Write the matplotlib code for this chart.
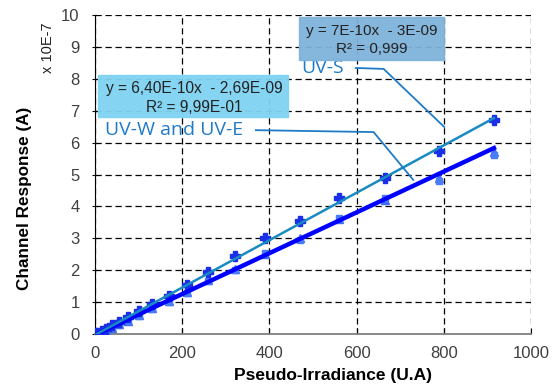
import numpy as np
import matplotlib
matplotlib.use("Agg")
import matplotlib.pyplot as plt

plt.rcParams['font.family'] = ['Liberation Sans', 'DejaVu Sans']

# pseudo-irradiance steps
irr = [0, 5, 15, 25, 40, 55, 75, 100, 130, 170, 210, 260, 320, 390, 470, 560, 665, 790, 915]

# channel responses, x 10E-7 A
uv_s = [0.02, 0.02, 0.08, 0.15, 0.27, 0.38, 0.52, 0.72, 0.93, 1.2, 1.55, 1.95, 2.45, 3.0, 3.55, 4.25, 4.9, 5.75, 6.7]
uv_w = [0.0, 0.0, 0.05, 0.1, 0.2, 0.3, 0.42, 0.58, 0.8, 1.05, 1.32, 1.7, 2.05, 2.5, 3.0, 3.6, 4.2, 4.9, 5.7]
uv_e = [0.0, 0.01, 0.04, 0.1, 0.18, 0.28, 0.4, 0.55, 0.78, 1.0, 1.3, 1.65, 2.0, 2.55, 2.95, 3.65, 4.25, 4.8, 5.6]

# trendline coefficients (slope, offset) in x 10E-7 units
fit_s = (0.00743, -0.03)
fit_we = (0.0064, -0.027)
fit_range = [0, 915]

W, H = 552, 388
fig = plt.figure(figsize=(W / 100, H / 100), dpi=100)
ax = fig.add_axes([95 / W, 1 - 334 / H, 436 / W, 319 / H])

fx = np.array(fit_range)
ax.plot(irr, uv_w, linestyle='none', marker='^', ms=6, color='#3b6ef5', zorder=3)
ax.plot(irr, uv_e, linestyle='none', marker='s', ms=5, color='#4a7cf5', zorder=3)
ax.plot(irr, uv_s, linestyle='none', marker='P', ms=6.5, color='#1a2fe8', zorder=4)
ax.plot(fx, fit_we[0] * fx + fit_we[1], color='#0000ff', lw=3.2, zorder=5)
ax.plot(fx, fit_s[0] * fx + fit_s[1], color='#1a8ac2', lw=1.8, zorder=5)

ax.set_xlim(0, 1000)
ax.set_ylim(0, 10)
ax.set_xticks(range(0, 1001, 200))
ax.set_yticks(range(0, 11))
ax.grid(True, color='black', linestyle=(0, (5, 3)), lw=0.9)
for s in ['top', 'right']:
    ax.spines[s].set_visible(False)
ax.spines['left'].set_color('black')
ax.spines['bottom'].set_color('#808080')
ax.spines['bottom'].set_linewidth(1.3)
ax.tick_params(axis='both', labelsize=12, labelcolor='#404040', length=4)
ax.tick_params(axis='y', direction='inout', pad=9)
ax.tick_params(axis='x', direction='in', pad=9)

ax.set_xlabel('Pseudo-Irradiance (U.A)', fontsize=12.5, fontweight='bold')
ax.xaxis.set_label_coords((333 - 95) / 436, -(368 - 334) / 319)
ax.set_ylabel('Channel Response (A)', fontsize=12.3, fontweight='bold')
ax.yaxis.set_label_coords(-(95 - 32) / 436, (334 - 198) / 319)
fig.text(48 / W, 1 - 48 / H, 'x 10E-7', rotation=90, fontsize=10.5, ha='center', va='center', color='#222222')

# trendline equation boxes
fig.patches.append(plt.Rectangle((98 / W, 1 - 117 / H), 190 / W, 42 / H,
                                 transform=fig.transFigure, color='#7fd3f2', alpha=0.95, zorder=6))
fig.text(194 / W, 1 - 89 / H, 'y = 6,40E-10x  - 2,69E-09', fontsize=11.2, ha='center', va='center', color='#222222', zorder=7)
fig.text(194 / W, 1 - 108 / H, 'R² = 9,99E-01', fontsize=11.2, ha='center', va='center', color='#222222', zorder=7)

fig.patches.append(plt.Rectangle((299 / W, 1 - 60 / H), 145 / W, 43 / H,
                                 transform=fig.transFigure, color='#7fb2da', alpha=0.95, zorder=6))
fig.text(372 / W, 1 - 31 / H, 'y = 7E-10x  - 3E-09', fontsize=11, ha='center', va='center', color='#222222', zorder=7)
fig.text(372 / W, 1 - 49 / H, 'R² = 0,999', fontsize=11, ha='center', va='center', color='#222222', zorder=7)

# series labels with leader lines
ax.text(22, 6.39, 'UV-W and UV-E', fontsize=14, family='Open Sans', color='#1f7bc8', ha='left', va='center')
ax.plot([369, 639, 730], [6.39, 6.33, 4.83], color='#1f7bc8', lw=1.3, zorder=6)
ax.text(474, 8.34, 'UV-S', fontsize=14, family='Open Sans', color='#1f7bc8', ha='left', va='center')
ax.plot([598, 662, 801], [8.34, 8.31, 6.49], color='#1f7bc8', lw=1.3, zorder=6)

fig.savefig('out.png', dpi=100)
